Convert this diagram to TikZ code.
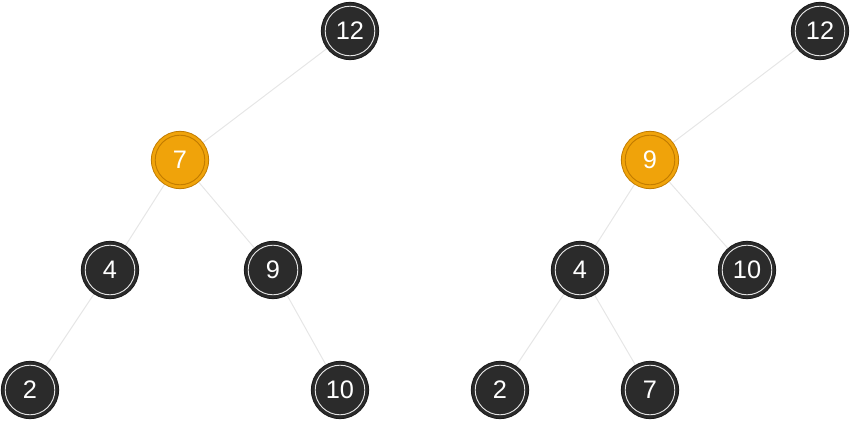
\documentclass[tikz,border=0pt]{standalone}
\usepackage{fontspec}
\setmainfont{Liberation Sans}
\usepackage{tikz}
\usetikzlibrary{
  positioning,
  backgrounds
}
\definecolor{nodedark}{HTML}{2B2B2B}
\definecolor{nodeorange}{HTML}{F0A30A}
\definecolor{ringorange}{HTML}{C27C00}
\definecolor{edgegray}{HTML}{E6E6E6}
\tikzset{
  x=0.75pt,
  y=-0.75pt,
  key/.style={circle, minimum size=43pt, inner sep=0pt, fill=nodedark, draw=black!90, line width=0.6pt,
    text=white, font=\fontsize{19}{19}\selectfont,
    path picture={\draw[white!90!black, line width=0.7pt] (path picture bounding box.center) circle (18.6pt);}},
  hot/.style={key, fill=nodeorange, draw=ringorange,
    path picture={\draw[ringorange, line width=0.7pt] (path picture bounding box.center) circle (18.6pt);}},
  link/.style={draw=edgegray, line width=0.75pt}
}

\begin{document}
\begin{tikzpicture}
    \useasboundingbox (0,0) rectangle (851,421);
    % before
    \node[key] (a12) at (350,31) {12};
    \node[hot] (a7) at (180,160) {7};
    \node[key] (a4) at (110,270) {4};
    \node[key] (a9) at (273,270) {9};
    \node[key] (a2) at (30,390) {2};
    \node[key] (a10) at (340,390) {10};
    % after
    \node[key] (b12) at (820,31) {12};
    \node[hot] (b9) at (650,160) {9};
    \node[key] (b4) at (580,270) {4};
    \node[key] (b10) at (747,270) {10};
    \node[key] (b2) at (500,390) {2};
    \node[key] (b7) at (650,390) {7};
    \begin{scope}[on background layer]
      \draw[link] (a12) -- (a7);
      \draw[link] (a7) -- (a4);
      \draw[link] (a7) -- (a9);
      \draw[link] (a4) -- (a2);
      \draw[link] (a9) -- (a10);
      \draw[link] (b12) -- (b9);
      \draw[link] (b9) -- (b4);
      \draw[link] (b9) -- (b10);
      \draw[link] (b4) -- (b2);
      \draw[link] (b4) -- (b7);
    \end{scope}
  \end{tikzpicture}
\end{document}
